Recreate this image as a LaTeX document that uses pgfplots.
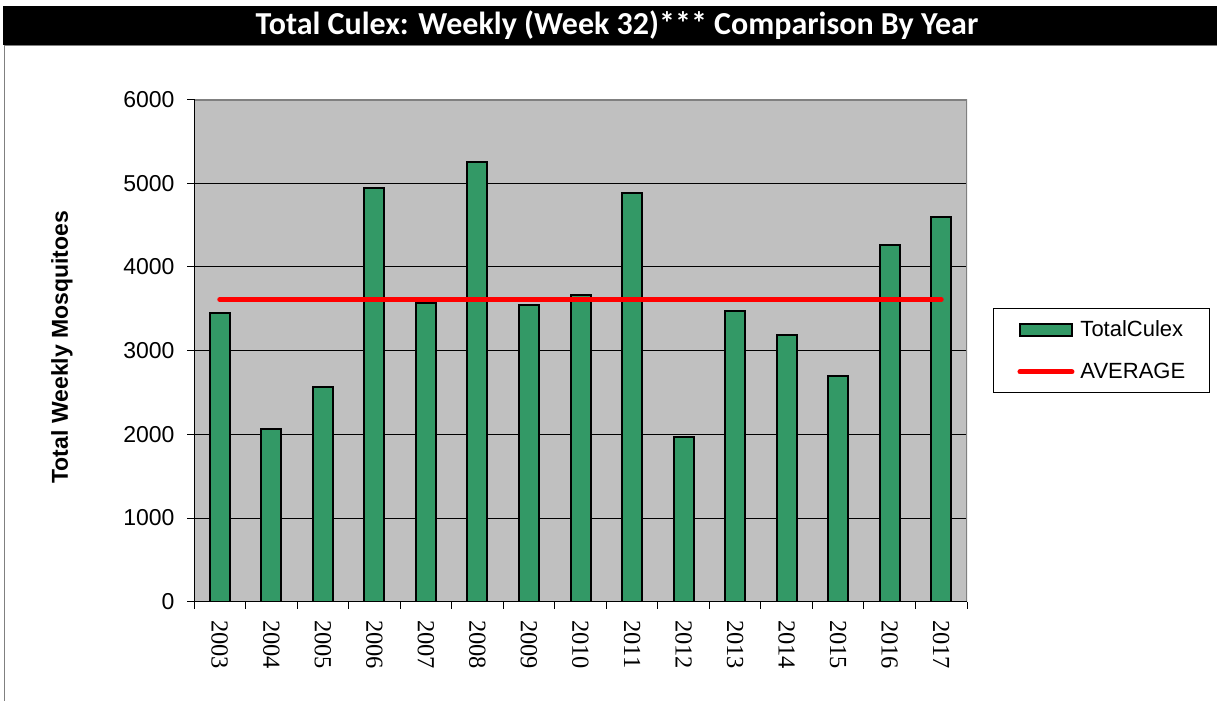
\documentclass[border=0pt]{standalone}
\usepackage{pgfplots}
\pgfplotsset{compat=1.18}
\usepackage{fontspec}
\setmainfont{Liberation Sans}
\newfontfamily\carlito{Carlito}
\newfontfamily\yrfont{Liberation Serif}
\definecolor{bargreen}{RGB}{51,153,102}
\definecolor{bggray}{RGB}{192,192,192}
\definecolor{bordgray}{RGB}{128,128,128}
\begin{document}
\begin{tikzpicture}
\path[use as bounding box] (0pt,0pt) rectangle (1217pt,701pt);
\fill[black] (3pt,656pt) rectangle (1217pt,695pt);
\node[text=white,font=\carlito\bfseries\fontsize{32}{37}\selectfont] at (617pt,675.5pt) {Total Culex: Weekly (Week 32)*** Comparison By Year};
\draw[bordgray, line width=1pt] (1217pt,655pt) -- (4pt,655pt) -- (4pt,0pt);
\begin{axis}[
  at={(194pt,99.3pt)}, anchor=south west,
  width=773pt, height=502.2pt, scale only axis,
  xmin=-0.5, xmax=14.5, ymin=0, ymax=6000,
  axis background/.style={fill=bggray},
  axis line style={draw=none},
  tick pos=left, tick align=outside,
  major tick length=7pt, minor tick length=7pt,
  ytick={0,1000,...,6000},
  ymajorgrids, grid style={black, line width=1pt},
  major y tick style={black, line width=1pt},
  xtick={0,...,14},
  xticklabels={2003,2004,2005,2006,2007,2008,2009,2010,2011,2012,2013,2014,2015,2016,2017},
  minor xtick={-0.5,0.5,...,14.5},
  major x tick style={draw=none},
  minor x tick style={black, line width=1pt},
  /pgf/number format/assume math mode=true,
  /pgf/number format/1000 sep={},
  yticklabel style={font=\fontsize{23}{27}\selectfont, xshift=-9pt},
  xticklabel style={font=\yrfont\fontsize{24.5}{28}\selectfont, yshift=-8pt, rotate=-90, anchor=west},
  every axis y label/.style={at={(axis description cs:-0.1708,0.507)}, rotate=90, anchor=center, font=\bfseries\fontsize{23}{27}\selectfont},
  ylabel={Total Weekly Mosquitoes},
  legend style={at={(1.0336,0.5848)}, anchor=north west, draw=black, line width=1pt, fill=white,
    font=\fontsize{22}{26}\selectfont, inner xsep=24pt, inner ysep=12.5pt, row sep=25pt,
    nodes={inner sep=0pt}, /tikz/column 1/.style={column sep=6pt}},
  legend cell align=left,
]
\addplot[ybar, bar width=20pt, fill=bargreen, draw=black, line width=2pt,
  legend image code/.code={\draw[fill=bargreen, draw=black, line width=2pt] (0pt,-6pt) rectangle (52pt,6pt);}]
  coordinates {(0,3454) (1,2068) (2,2570) (3,4944) (4,3565) (5,5259) (6,3546) (7,3665) (8,4888) (9,1968) (10,3474) (11,3187) (12,2701) (13,4267) (14,4601)};
\addlegendentry{TotalCulex}
\addplot[red, line width=5pt, line cap=round, mark=none,
  legend image code/.code={\draw[red, line width=5pt, line cap=round] (0pt,0pt) -- (52pt,0pt);}]
  coordinates {(0,3610) (14,3610)};
\addlegendentry{AVERAGE}
\draw[bordgray, line width=2.5pt] (rel axis cs:0,1) -- (rel axis cs:1,1) -- (rel axis cs:1,0);
\draw[black, line width=1.5pt] (rel axis cs:0,1) -- (rel axis cs:0,0) -- (rel axis cs:1,0);
\end{axis}
\end{tikzpicture}
\end{document}
